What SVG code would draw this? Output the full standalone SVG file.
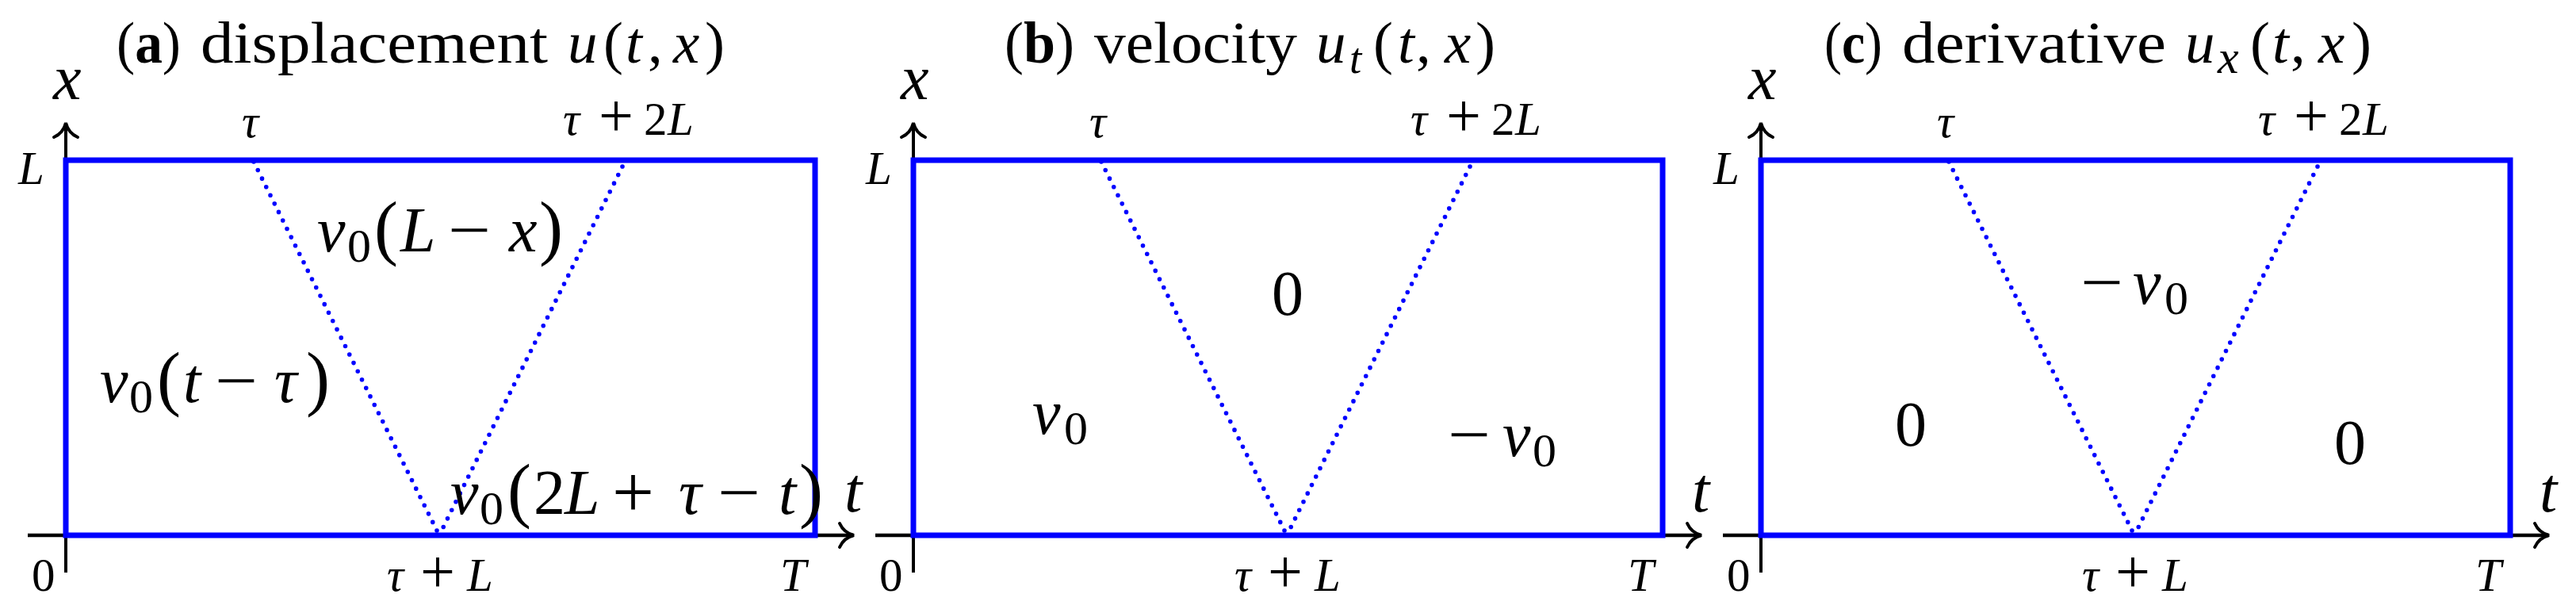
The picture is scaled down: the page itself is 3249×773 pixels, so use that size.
<svg xmlns="http://www.w3.org/2000/svg" width="3249" height="773" viewBox="0 0 3249 773" font-family="'Liberation Serif','Times New Roman',serif">
<defs>
<style>
text{font-family:"Liberation Serif","Times New Roman",serif;fill:#000}
.i{font-style:italic}
.b{font-weight:bold}
.ttl{font-size:75px}
.sub{font-size:55px}
.big{font-size:80px}
.s0{font-size:60px}
.par{font-size:90px}
.plus{font-size:94px}
.tk{font-size:59px}
.tkp{font-size:78px}
.ax{stroke:#000;stroke-width:4;fill:none}
.axh{stroke:#000;stroke-width:4.6;fill:none}
.box{stroke:#0000ff;stroke-width:7;fill:none}
.dot{stroke:#0000ff;stroke-width:5.6;fill:none;stroke-dasharray:0 11.8;stroke-linecap:round}
</style>
<marker id="arr" markerUnits="userSpaceOnUse" viewBox="-19 -17 22 34" markerWidth="22" markerHeight="34" refX="0" refY="0" orient="auto" overflow="visible">
<path d="M -17,-15 C -13,-6 -5,-1.5 1,0 C -5,1.5 -13,6 -17,15" stroke="#000" stroke-width="4" fill="none" stroke-linecap="round"/>
</marker>
</defs>
<rect width="3249" height="773" fill="#fff"/>

<g id="connectors">
<line class="axh" x1="35" y1="675" x2="1076" y2="675" marker-end="url(#arr)"/>
<line class="ax" x1="83" y1="722" x2="83" y2="156" marker-end="url(#arr)"/>
<line class="dot" x1="320" y1="204" x2="554" y2="675"/>
<line class="dot" x1="554" y1="675" x2="788" y2="204"/>
<line class="axh" x1="1104" y1="675" x2="2145" y2="675" marker-end="url(#arr)"/>
<line class="ax" x1="1152" y1="722" x2="1152" y2="156" marker-end="url(#arr)"/>
<line class="dot" x1="1389" y1="204" x2="1623" y2="675"/>
<line class="dot" x1="1623" y1="675" x2="1857" y2="204"/>
<line class="axh" x1="2173" y1="675" x2="3214" y2="675" marker-end="url(#arr)"/>
<line class="ax" x1="2221" y1="722" x2="2221" y2="156" marker-end="url(#arr)"/>
<line class="dot" x1="2458" y1="204" x2="2692" y2="675"/>
<line class="dot" x1="2692" y1="675" x2="2926" y2="204"/>
</g>

<g id="panel-a">
<rect class="box" x="83" y="202" width="945" height="473"/>
<text class="ttl" x="147" y="79" textLength="81" lengthAdjust="spacingAndGlyphs">(<tspan class="b">a</tspan>)</text>
<text class="ttl" x="253" y="79" textLength="438" lengthAdjust="spacingAndGlyphs">displacement</text>
<text class="ttl i" x="716" y="79">u</text>
<text class="ttl" x="761" y="79">(</text>
<text class="ttl i" x="789" y="79">t</text>
<text class="ttl" x="817" y="79">,</text>
<text class="ttl i" x="849" y="79">x</text>
<text class="ttl" x="889" y="79">)</text>
<text class="big i" x="67" y="125">x</text>
<text class="big i" x="1065" y="645">t</text>
<text class="tk i" x="23" y="232">L</text>
<text class="tk i" x="305" y="173">τ</text>
<text class="tk i" x="710" y="170">τ</text><text class="tkp" x="755" y="172">+</text><text class="tk" x="812" y="170">2</text><text class="tk i" x="842" y="170">L</text>
<text class="tk" x="40" y="745">0</text>
<text class="tk i" x="488" y="745">τ</text><text class="tkp" x="530" y="747">+</text><text class="tk i" x="589" y="745">L</text>
<text class="tk i" x="984" y="745">T</text>
<text class="big i" x="400" y="317">v</text><text class="s0" x="438" y="330">0</text><text class="par" x="472" y="317">(</text><text class="big i" x="505" y="317">L</text><text class="big" x="565" y="317" textLength="54" lengthAdjust="spacingAndGlyphs">−</text><text class="big i" x="642" y="317">x</text><text class="par" x="680" y="317">)</text>
<text class="big i" x="126" y="507">v</text><text class="s0" x="163" y="520">0</text><text class="par" x="198" y="507">(</text><text class="big i" x="231" y="507">t</text><text class="big" x="271" y="507" textLength="54" lengthAdjust="spacingAndGlyphs">−</text><text class="big i" x="346" y="507">τ</text><text class="par" x="386" y="507">)</text>
<text class="big i" x="568" y="648">v</text><text class="s0" x="605" y="661">0</text><text class="par" x="640" y="648">(</text><text class="big" x="673" y="648">2</text><text class="big i" x="712" y="648">L</text><text class="plus" x="772" y="652">+</text><text class="big i" x="856" y="648">τ</text><text class="big" x="905" y="648" textLength="54" lengthAdjust="spacingAndGlyphs">−</text><text class="big i" x="982" y="648">t</text><text class="par" x="1008" y="648">)</text>
</g>

<g id="panel-b">
<rect class="box" x="1152" y="202" width="945" height="473"/>
<text class="ttl" x="1267" y="79" textLength="88" lengthAdjust="spacingAndGlyphs">(<tspan class="b">b</tspan>)</text>
<text class="ttl" x="1380" y="79" textLength="256" lengthAdjust="spacingAndGlyphs">velocity</text>
<text class="ttl i" x="1660" y="79">u</text>
<text class="sub i" x="1702" y="92">t</text>
<text class="ttl" x="1732" y="79">(</text>
<text class="ttl i" x="1763" y="79">t</text>
<text class="ttl" x="1786" y="79">,</text>
<text class="ttl i" x="1822" y="79">x</text>
<text class="ttl" x="1861" y="79">)</text>
<text class="big i" x="1136" y="125">x</text>
<text class="big i" x="2134" y="645">t</text>
<text class="tk i" x="1092" y="232">L</text>
<text class="tk i" x="1374" y="173">τ</text>
<text class="tk i" x="1779" y="170">τ</text><text class="tkp" x="1824" y="172">+</text><text class="tk" x="1881" y="170">2</text><text class="tk i" x="1911" y="170">L</text>
<text class="tk" x="1109" y="745">0</text>
<text class="tk i" x="1557" y="745">τ</text><text class="tkp" x="1599" y="747">+</text><text class="tk i" x="1658" y="745">L</text>
<text class="tk i" x="2053" y="745">T</text>
<text class="big" x="1604" y="397">0</text>
<text class="big i" x="1302" y="547">v</text><text class="s0" x="1342" y="560">0</text>
<text class="big" x="1826" y="575" textLength="54" lengthAdjust="spacingAndGlyphs">−</text><text class="big i" x="1895" y="575">v</text><text class="s0" x="1933" y="588">0</text>
</g>

<g id="panel-c">
<rect class="box" x="2221" y="202" width="945" height="473"/>
<text class="ttl" x="2301" y="79" textLength="73" lengthAdjust="spacingAndGlyphs">(<tspan class="b">c</tspan>)</text>
<text class="ttl" x="2399" y="79" textLength="333" lengthAdjust="spacingAndGlyphs">derivative</text>
<text class="ttl i" x="2756" y="79">u</text>
<text class="sub i" x="2797" y="92" style="font-size:60px">x</text>
<text class="ttl" x="2838" y="79">(</text>
<text class="ttl i" x="2866" y="79">t</text>
<text class="ttl" x="2889" y="79">,</text>
<text class="ttl i" x="2924" y="79">x</text>
<text class="ttl" x="2966" y="79">)</text>
<text class="big i" x="2205" y="125">x</text>
<text class="big i" x="3203" y="645">t</text>
<text class="tk i" x="2161" y="232">L</text>
<text class="tk i" x="2443" y="173">τ</text>
<text class="tk i" x="2848" y="170">τ</text><text class="tkp" x="2893" y="172">+</text><text class="tk" x="2950" y="170">2</text><text class="tk i" x="2980" y="170">L</text>
<text class="tk" x="2178" y="745">0</text>
<text class="tk i" x="2626" y="745">τ</text><text class="tkp" x="2668" y="747">+</text><text class="tk i" x="2727" y="745">L</text>
<text class="tk i" x="3122" y="745">T</text>
<text class="big" x="2624" y="383" textLength="54" lengthAdjust="spacingAndGlyphs">−</text><text class="big i" x="2690" y="383">v</text><text class="s0" x="2730" y="396">0</text>
<text class="big" x="2390" y="562">0</text>
<text class="big" x="2944" y="585">0</text>
</g>
</svg>
